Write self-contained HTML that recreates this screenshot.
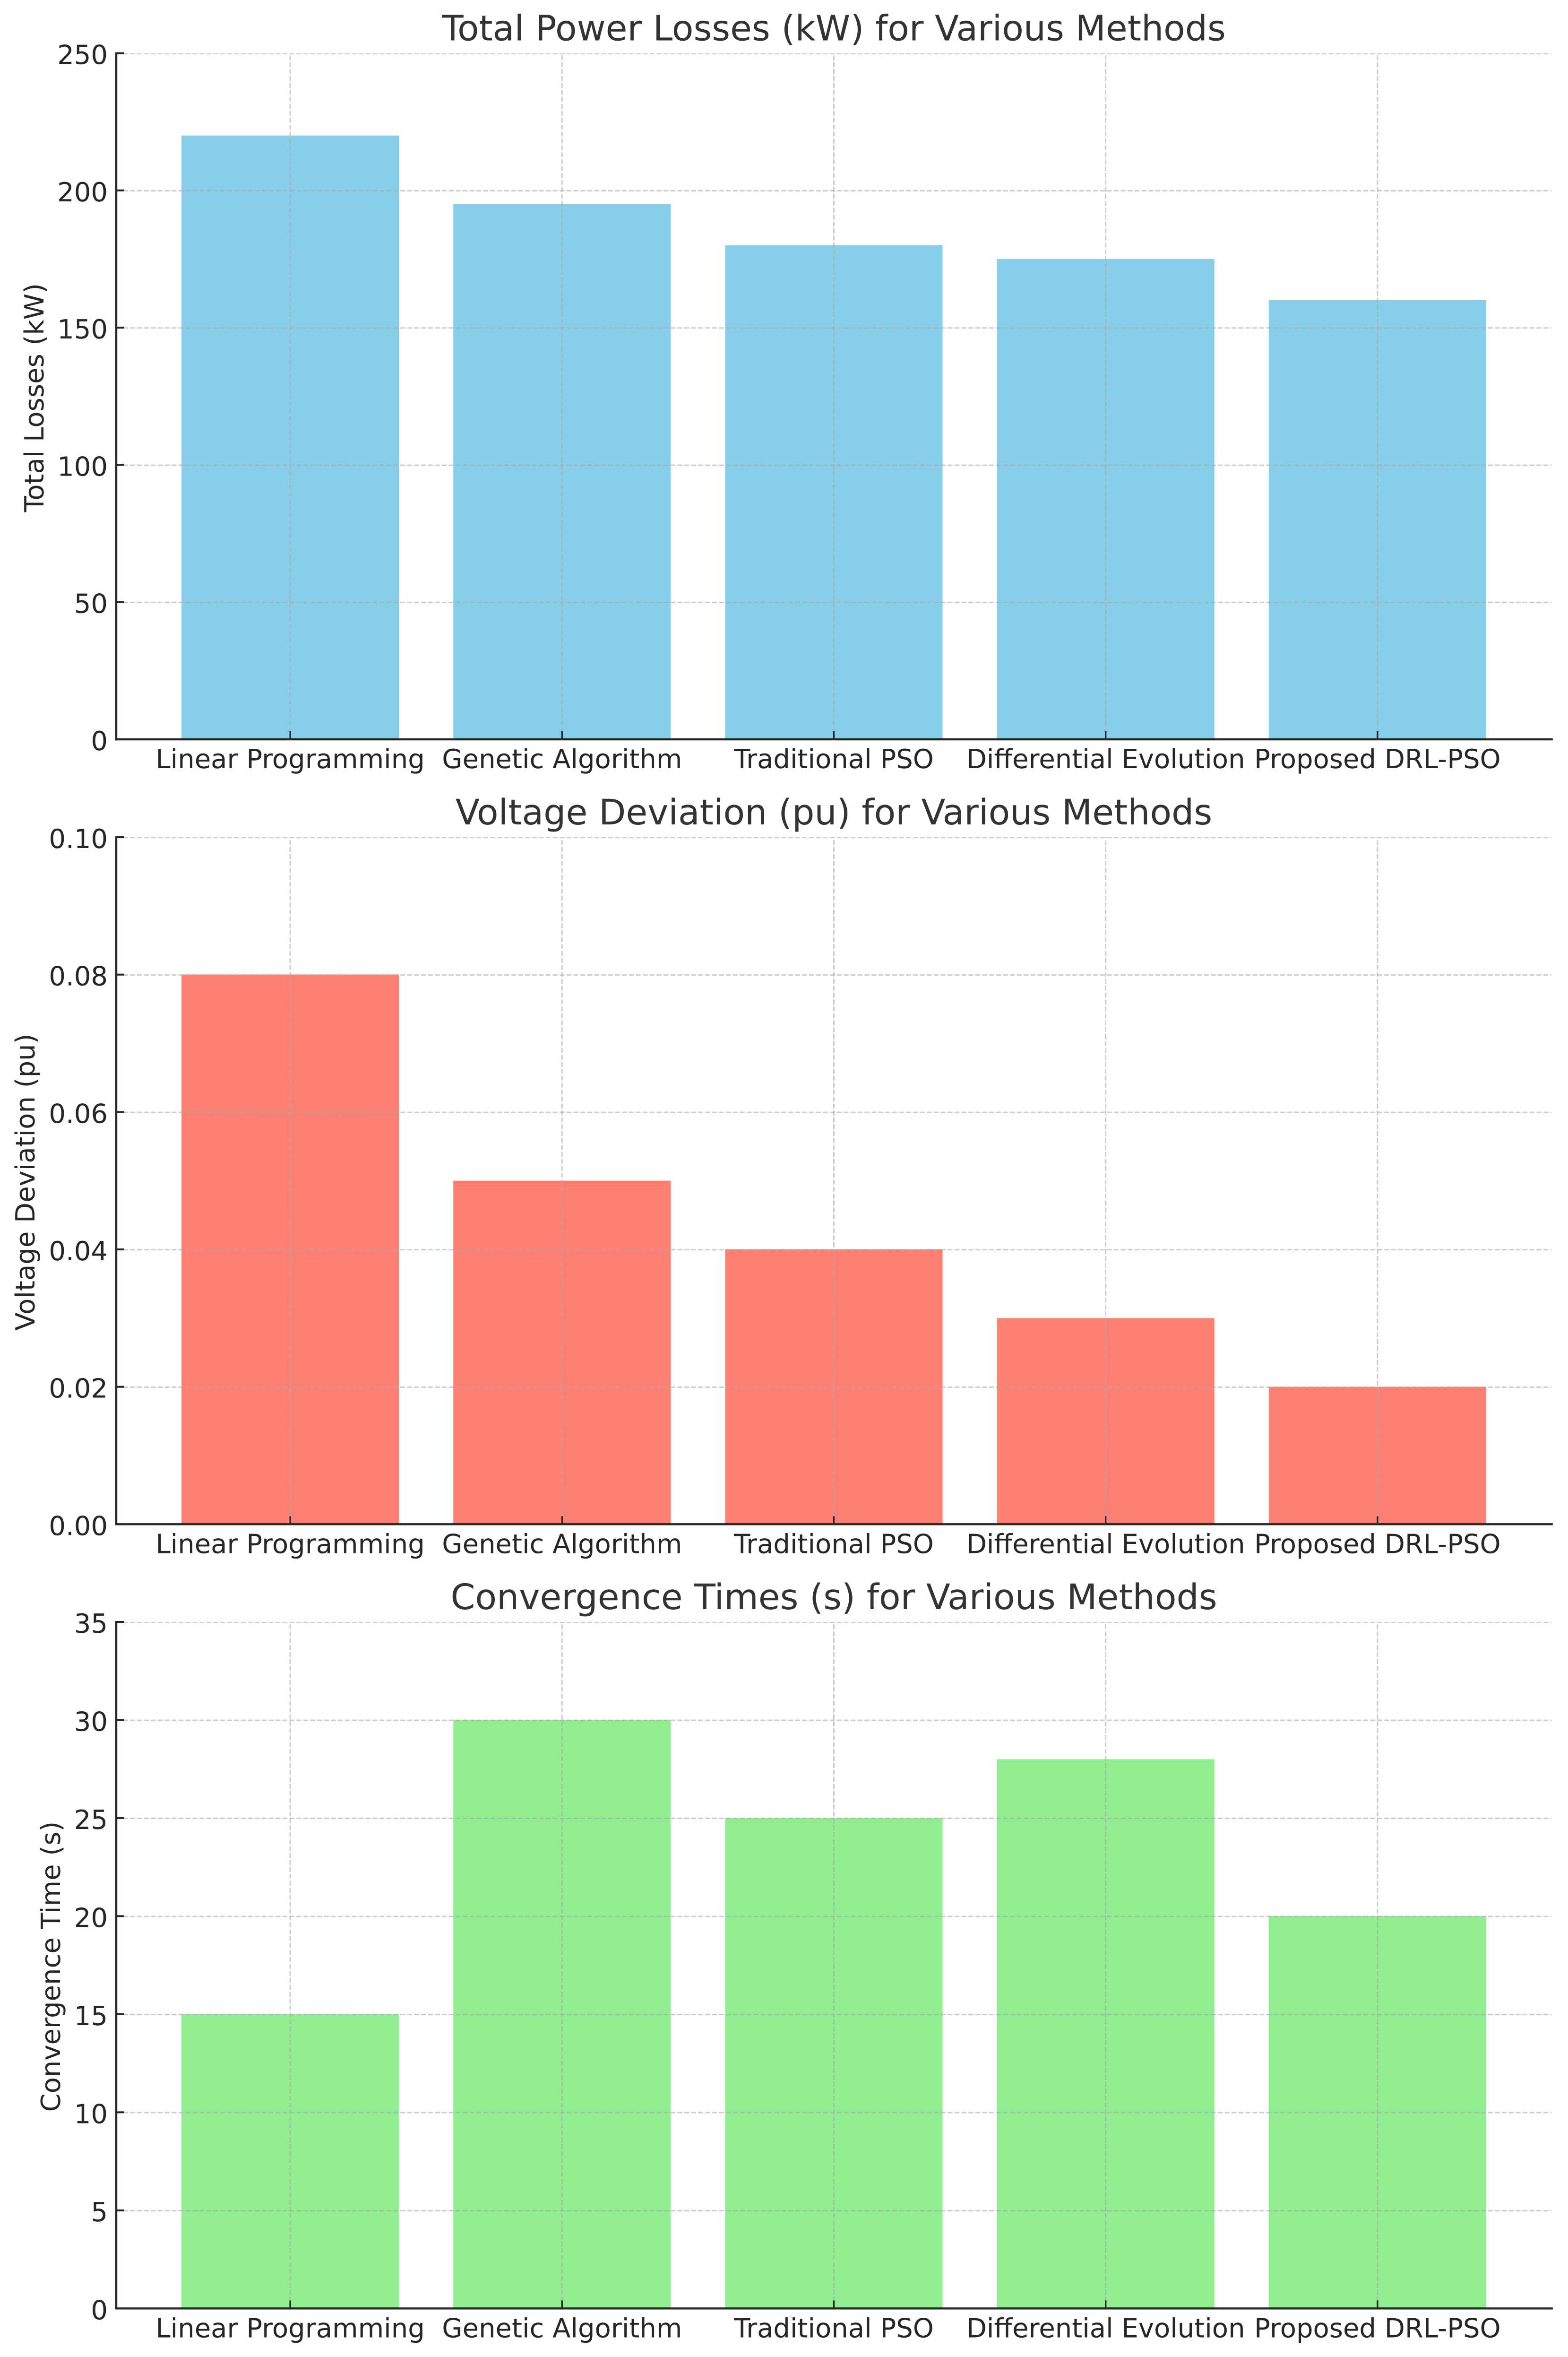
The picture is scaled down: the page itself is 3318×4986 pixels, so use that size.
<!DOCTYPE html>
<html lang="en">
<head>
<meta charset="utf-8">
<title>Comparison of Optimization Methods</title>
<style>
  html, body { margin: 0; padding: 0; background: #ffffff; }
  body { width: 3318px; height: 4986px; overflow: hidden; }
  svg { display: block; }
  text { font-family: "DejaVu Sans", "Liberation Sans", sans-serif; text-rendering: geometricPrecision; }
</style>
</head>
<body>
<svg id="figure" xmlns="http://www.w3.org/2000/svg" width="3318" height="4986" viewBox="0 0 3318 4986"></svg>
<script>
const categories = ["Linear Programming", "Genetic Algorithm", "Traditional PSO", "Differential Evolution", "Proposed DRL-PSO"];

const lossValues = [220, 195, 180, 175, 160];
const lossTicks = [0, 50, 100, 150, 200, 250];
const lossTickLabels = ["0", "50", "100", "150", "200", "250"];

const voltageValues = [0.08, 0.05, 0.04, 0.03, 0.02];
const voltageTicks = [0, 0.02, 0.04, 0.06, 0.08, 0.10];
const voltageTickLabels = ["0.00", "0.02", "0.04", "0.06", "0.08", "0.10"];

const timeValues = [15, 30, 25, 28, 20];
const timeTicks = [0, 5, 10, 15, 20, 25, 30, 35];
const timeTickLabels = ["0", "5", "10", "15", "20", "25", "30", "35"];

const NS = "http://www.w3.org/2000/svg";
const figure = document.getElementById("figure");
const AXIS_LEFT = 246;
const AXIS_RIGHT = 3283;
const X_MIN = -0.64;
const X_MAX = 4.64;
const BAR_WIDTH = 0.8;
const INK = "#262626";

function xScale(v) {
  return AXIS_LEFT + (v - X_MIN) / (X_MAX - X_MIN) * (AXIS_RIGHT - AXIS_LEFT);
}

function make(tag, parent, attrs) {
  const node = document.createElementNS(NS, tag);
  for (const k in attrs) node.setAttribute(k, attrs[k]);
  parent.appendChild(node);
  return node;
}

function drawPanel(id, title, yLabel, values, ticks, tickLabels, color, top, bottom, yLabelX) {
  const yMax = ticks[ticks.length - 1];
  const yScale = function (v) { return bottom - (v / yMax) * (bottom - top); };

  const panel = make("g", figure, {});
  
  

  const clip = make("clipPath", panel, { id: id + "-clip" });
  make("rect", clip, { x: AXIS_LEFT, y: top, width: AXIS_RIGHT - AXIS_LEFT, height: bottom - top });

  const bars = make("g", panel, {});
  
  
  values.forEach(function (v, i) {
    const bar = make("rect", bars, {
      x: xScale(i - BAR_WIDTH / 2),
      y: yScale(v),
      width: xScale(i + BAR_WIDTH / 2) - xScale(i - BAR_WIDTH / 2),
      height: yScale(0) - yScale(v),
      fill: color
    });
    
    
  });

  const grid = make("g", panel, {
    "clip-path": "url(#" + id + "-clip)",
    stroke: "#aaaaaa",
    "stroke-opacity": "0.6",
    "stroke-width": "3",
    "stroke-dasharray": "10.2 4.46",
    fill: "none"
  });
  
  
  categories.forEach(function (c, i) {
    const line = make("line", grid, { x1: xScale(i), y1: bottom, x2: xScale(i), y2: top });
    
    
  });
  ticks.forEach(function (t) {
    const line = make("line", grid, { x1: AXIS_LEFT, y1: yScale(t) + 0.7, x2: AXIS_RIGHT, y2: yScale(t) + 0.7 });
    
    
  });

  ticks.forEach(function (t, i) {
    const mark = make("line", panel, {
      x1: AXIS_LEFT, y1: yScale(t), x2: AXIS_LEFT + 16, y2: yScale(t),
      stroke: INK, "stroke-width": "4"
    });
    
    
    const label = make("text", panel, {
      x: 228, y: yScale(t) + 23, "text-anchor": "end", "font-size": "56", fill: INK
    });
    label.textContent = tickLabels[i];
    
    
  });

  categories.forEach(function (c, i) {
    const mark = make("line", panel, {
      x1: xScale(i), y1: bottom, x2: xScale(i), y2: bottom - 17,
      stroke: INK, "stroke-width": "3.4"
    });
    
    
    const label = make("text", panel, {
      x: xScale(i), y: bottom + 61, "text-anchor": "middle", "font-size": "56", fill: INK
    });
    label.textContent = c;
    
    
  });

  const leftSpine = make("line", panel, {
    x1: AXIS_LEFT, y1: top - 2, x2: AXIS_LEFT, y2: bottom + 2.2,
    stroke: INK, "stroke-width": "4.4"
  });
  
  

  const bottomSpine = make("line", panel, {
    x1: AXIS_LEFT - 2.2, y1: bottom, x2: AXIS_RIGHT + 2.8, y2: bottom,
    stroke: INK, "stroke-width": "4.4"
  });
  
  

  const titleText = make("text", panel, {
    x: (AXIS_LEFT + AXIS_RIGHT) / 2, y: top - 27, "text-anchor": "middle", "font-size": "74.5", fill: "#333333"
  });
  titleText.textContent = title;
  
  

  const mid = (top + bottom) / 2 + 3;
  const yTitle = make("text", panel, {
    x: yLabelX, y: mid, "text-anchor": "middle", "font-size": "56", fill: INK,
    transform: "rotate(-90 " + yLabelX + " " + mid + ")"
  });
  yTitle.textContent = yLabel;
  
  
}

drawPanel("power-losses", "Total Power Losses (kW) for Various Methods", "Total Losses (kW)", lossValues, lossTicks, lossTickLabels, "#87CEEB", 112.5, 1564, 92);
drawPanel("voltage-deviation", "Voltage Deviation (pu) for Various Methods", "Voltage Deviation (pu)", voltageValues, voltageTicks, voltageTickLabels, "#FD8072", 1771, 3224.3, 73);
drawPanel("convergence-times", "Convergence Times (s) for Various Methods", "Convergence Time (s)", timeValues, timeTicks, timeTickLabels, "#90EE90", 3431, 4883.3, 127);
</script>
</body>
</html>
